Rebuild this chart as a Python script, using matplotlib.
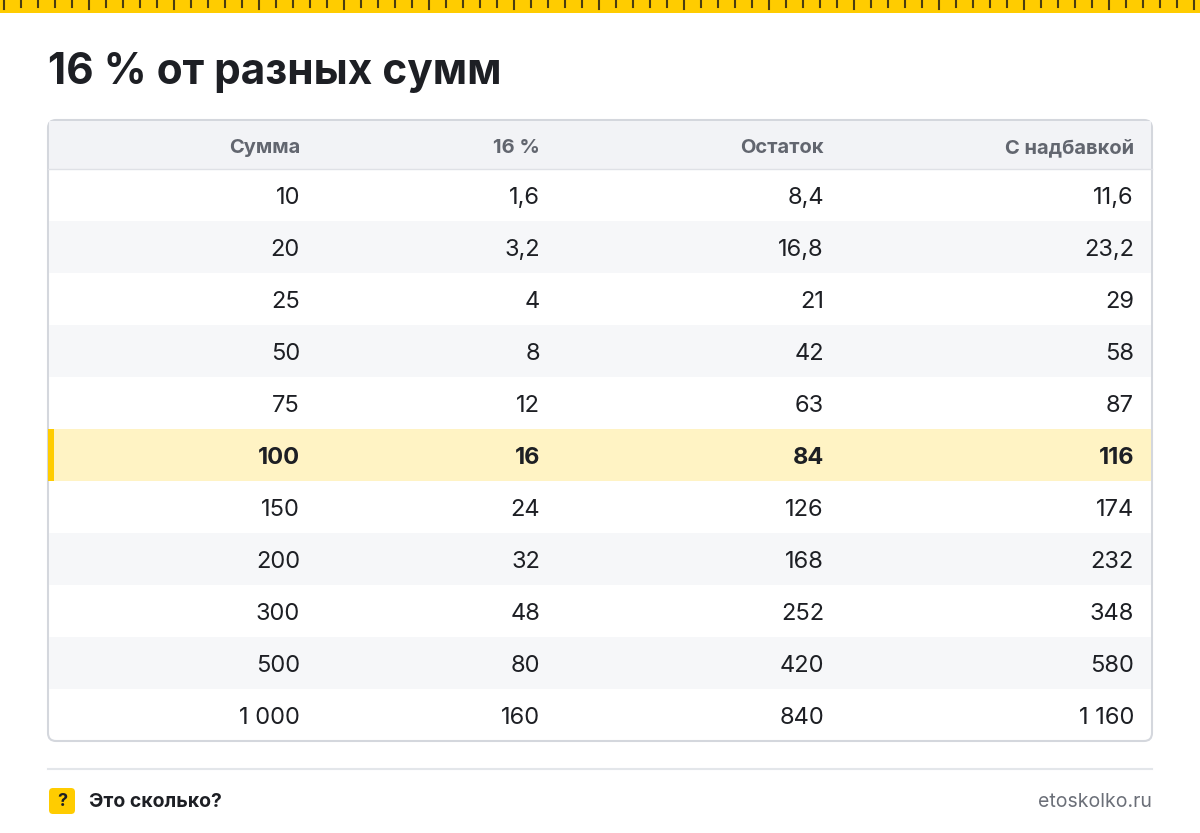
import matplotlib.pyplot as plt
from matplotlib.patches import FancyBboxPatch, Rectangle

plt.rcParams['font.family'] = ['Inter', 'DejaVu Sans']

title = '16 % от разных сумм'
headers = ['Сумма', '16 %', 'Остаток', 'С надбавкой']
amounts = ['10', '20', '25', '50', '75', '100', '150', '200', '300', '500', '1 000']
percent = ['1,6', '3,2', '4', '8', '12', '16', '24', '32', '48', '80', '160']
rest = ['8,4', '16,8', '21', '42', '63', '84', '126', '168', '252', '420', '840']
plus = ['11,6', '23,2', '29', '58', '87', '116', '174', '232', '348', '580', '1 160']
highlight = '100'

W, H = 1200, 833
fig = plt.figure(figsize=(12, 8.33), dpi=100)
ax = fig.add_axes([0, 0, 1, 1])
ax.set_xlim(0, W)
ax.set_ylim(H, 0)
ax.axis('off')

# ruler strip
ax.add_patch(Rectangle((0, 0), W, 13, color='#ffcc00', lw=0))
for i, x in enumerate(range(4, W, 17)):
    ax.plot([x, x], [0, 9 if i % 5 == 0 else 7], color='#4a3d10', lw=1.5)

ax.text(48, 72, title, fontsize=30.5, fontweight='bold', color='#1d1f24', va='center')

# table frame
left, right, top, bottom = 48, 1152, 120, 741
head_h, row_h = 49, 52
ax.add_patch(FancyBboxPatch((left, top), right - left, bottom - top,
                            boxstyle='round,pad=0,rounding_size=8',
                            fc='white', ec='#d4d7dd', lw=1.5, zorder=1))
ax.add_patch(Rectangle((left + 1, top + 1), right - left - 2, head_h - 1, color='#f2f3f6', lw=0, zorder=1.5))
ax.plot([left, right], [top + head_h, top + head_h], color='#dfe1e6', lw=1, zorder=2)

col_right = [300, 540, 824, 1134]
for j, h in enumerate(headers):
    ax.text(col_right[j], top + head_h / 2 + 3, h, fontsize=14.5, fontweight='bold',
            color='#62666f', ha='right', va='center', zorder=3)

columns = [amounts, percent, rest, plus]
for i in range(len(amounts)):
    y0 = top + head_h + row_h * i
    hl = amounts[i] == highlight
    if hl:
        ax.add_patch(Rectangle((left + 1, y0), right - left - 2, row_h, color='#fff3c4', lw=0, zorder=1.5))
        ax.add_patch(Rectangle((left, y0), 6, row_h, color='#ffcc00', lw=0, zorder=1.6))
    elif i % 2 == 1:
        ax.add_patch(Rectangle((left + 1, y0), right - left - 2, row_h, color='#f6f7f9', lw=0, zorder=1.5))
    for j, col in enumerate(columns):
        ax.text(col_right[j], y0 + row_h / 2 + 3, col[i], fontsize=17,
                fontweight='bold' if hl else 'normal', color='#1d1f24',
                ha='right', va='center', zorder=3)

# footer
ax.plot([48, 1152], [769, 769], color='#e3e6ea', lw=1.5)
ax.add_patch(FancyBboxPatch((49, 788), 26, 26, boxstyle='round,pad=0,rounding_size=4',
                            fc='#ffcc00', ec='none'))
ax.text(62, 802, '?', fontsize=13, fontweight='bold', color='#1d1f24', ha='center', va='center')
ax.text(89, 802, 'Это сколько?', fontsize=14, fontweight='bold', color='#1d1f24', va='center')
ax.text(1152, 802, 'etoskolko.ru', fontsize=14, color='#6b6f78', ha='right', va='center')

fig.savefig('out.png', dpi=100, facecolor='white')
